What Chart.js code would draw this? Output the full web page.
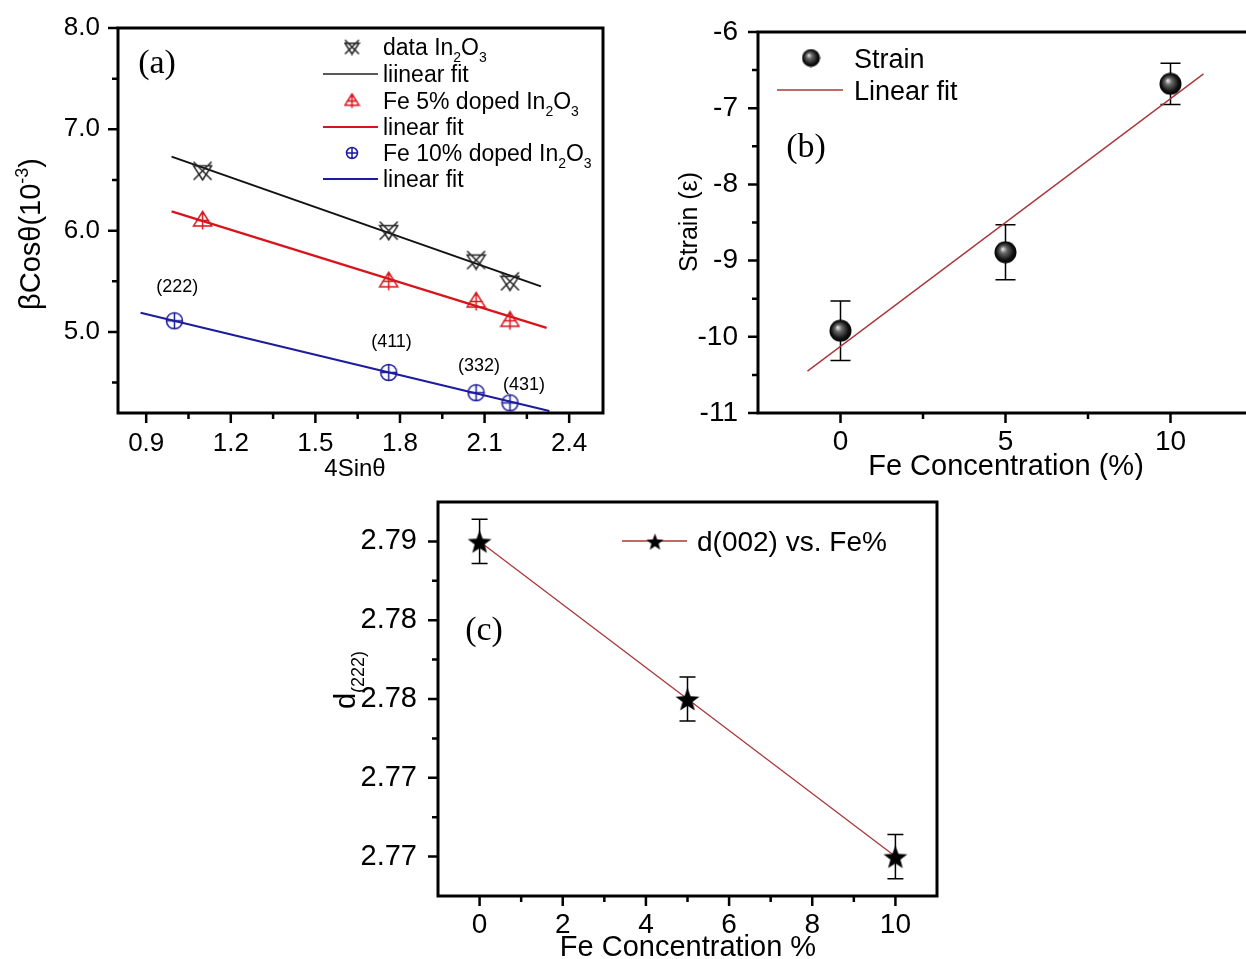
<!DOCTYPE html>
<html>
<head>
<meta charset="utf-8">
<script src="https://cdn.jsdelivr.net/npm/chart.js@4.4.1/dist/chart.umd.min.js"></script>
<style>
  body { margin: 0; background: #fff; }
  #wrap { position: relative; width: 1246px; height: 959px; overflow: hidden; background: #fff; }
  #wrap canvas { position: absolute; }
</style>
</head>
<body>
<div id="wrap">
  <canvas id="chartA" width="620" height="480" style="left:0;top:0;"></canvas>
  <canvas id="chartB" width="660" height="480" style="left:620px;top:0;"></canvas>
  <canvas id="chartC" width="640" height="479" style="left:320px;top:480px;"></canvas>
</div>
<script>
const SANS = '"Liberation Sans", Arial, sans-serif';
const SERIF = '"Liberation Serif", "Times New Roman", serif';

// ---- (a) Williamson-Hall plot ----
const whX = [1.10, 1.76, 2.07, 2.19];
const whX10 = [1.00, 1.76, 2.07, 2.19];
const whPure = [6.59, 6.00, 5.71, 5.50];
const whFe5 = [6.10, 5.50, 5.30, 5.11];
const whFe10 = [5.11, 4.60, 4.40, 4.30];
const fitPureX = [0.99, 2.30];
const fitPureY = [6.73, 5.45];
const fitFe5X = [0.99, 2.32];
const fitFe5Y = [6.19, 5.04];
const fitFe10X = [0.88, 2.33];
const fitFe10Y = [5.19, 4.22];
const peakLabels = ['(222)', '(411)', '(332)', '(431)'];
const peakLabelX = [1.01, 1.77, 2.08, 2.24];
const peakLabelY = [5.46, 4.92, 4.68, 4.49];
const aXTicks = [0.9, 1.2, 1.5, 1.8, 2.1, 2.4];
const aXLabels = ['0.9', '1.2', '1.5', '1.8', '2.1', '2.4'];
const aXMinor = [1.05, 1.35, 1.65, 1.95, 2.25];
const aYTicks = [5, 6, 7, 8];
const aYLabels = ['5.0', '6.0', '7.0', '8.0'];
const aYMinor = [4.5, 5.5, 6.5, 7.5];

// ---- (b) strain vs Fe ----
const feConc = [0, 5, 10];
const strain = [-9.92, -8.89, -6.68];
const strainErr = [0.39, 0.36, 0.27];
const strainFitX = [-1, 11];
const strainFitY = [-10.45, -6.55];
const bXTicks = [0, 5, 10];
const bXLabels = ['0', '5', '10'];
const bXMinor = [2.5, 7.5];
const bYTicks = [-11, -10, -9, -8, -7, -6];
const bYLabels = ['-11', '-10', '-9', '-8', '-7', '-6'];
const bYMinor = [-10.5, -9.5, -8.5, -7.5, -6.5];

// ---- (c) d-spacing vs Fe ----
const dSpacing = [2.79, 2.78, 2.77];
const dErr = [0.0014, 0.0014, 0.0014];
const cXTicks = [0, 2, 4, 6, 8, 10];
const cXLabels = ['0', '2', '4', '6', '8', '10'];
const cXMinor = [1, 3, 5, 7, 9];
const cYTicks = [2.77, 2.775, 2.78, 2.785, 2.79];
const cYLabels = ['2.77', '2.77', '2.78', '2.78', '2.79'];
const cYMinor = [2.7725, 2.7775, 2.7825, 2.7875];

const xy = (xs, ys) => xs.map((x, i) => ({ x: x, y: ys[i] }));

// marker images
function marker(size, draw) {
  const c = document.createElement('canvas');
  c.width = size; c.height = size;
  draw(c.getContext('2d'), size / 2);
  return c;
}
const crossTri = (s, color) => marker(s, (g, h) => {
  const r = h - 1.5;
  g.strokeStyle = color; g.lineWidth = 1.5;
  g.beginPath();
  g.moveTo(h - r, h - r); g.lineTo(h + r, h + r);
  g.moveTo(h + r, h - r); g.lineTo(h - r, h + r);
  g.moveTo(h - r, h - r * 0.55); g.lineTo(h + r, h - r * 0.55); g.lineTo(h, h + r); g.closePath();
  g.stroke();
});
const triPlus = (s, color) => marker(s, (g, h) => {
  const r = h - 1.5;
  g.strokeStyle = color; g.lineWidth = 1.5;
  g.beginPath();
  g.moveTo(h, h - r); g.lineTo(h + r, h + r * 0.6); g.lineTo(h - r, h + r * 0.6); g.closePath();
  g.moveTo(h, h - r); g.lineTo(h, h + r);
  g.moveTo(h - r * 0.75, h); g.lineTo(h + r * 0.75, h);
  g.stroke();
});
const circPlus = (s, color) => marker(s, (g, h) => {
  const r = h - 1.5;
  g.strokeStyle = color; g.lineWidth = 1.5;
  g.beginPath();
  g.arc(h, h, r, 0, Math.PI * 2);
  g.moveTo(h, h - r); g.lineTo(h, h + r);
  g.moveTo(h - r, h); g.lineTo(h + r, h);
  g.stroke();
});
const ball = s => marker(s, (g, h) => {
  const grad = g.createRadialGradient(h * 0.75, h * 0.7, 0, h, h, h);
  grad.addColorStop(0, '#f2f2f2');
  grad.addColorStop(0.3, '#6a6a6a');
  grad.addColorStop(0.75, '#111');
  grad.addColorStop(1, '#000');
  g.fillStyle = grad;
  g.beginPath(); g.arc(h, h, h - 0.5, 0, Math.PI * 2); g.fill();
});
const star = s => marker(s, (g, h) => {
  const R = h - 0.5, r = R * 0.42;
  g.fillStyle = '#000';
  g.beginPath();
  for (let i = 0; i < 10; i++) {
    const a = -Math.PI / 2 + i * Math.PI / 5;
    const rr = i % 2 ? r : R;
    g.lineTo(h + rr * Math.cos(a), h + 1.5 + rr * Math.sin(a));
  }
  g.closePath(); g.fill();
});

// text with _{sub} and ^{sup}
function richText(ctx, str, x, y, size, family, align, angle) {
  const parts = str.split(/(_\{[^}]*\}|\^\{[^}]*\})/).filter(Boolean).map(p => {
    if (p[0] === '_') return { t: p.slice(2, -1), s: 'sub' };
    if (p[0] === '^') return { t: p.slice(2, -1), s: 'sup' };
    return { t: p };
  });
  const small = Math.round(size * 0.62);
  ctx.save();
  ctx.translate(x, y);
  if (angle) ctx.rotate(angle);
  const widths = parts.map(p => {
    ctx.font = (p.s ? small : size) + 'px ' + family;
    return ctx.measureText(p.t).width;
  });
  const total = widths.reduce((a, b) => a + b, 0);
  let cx = align === 'center' ? -total / 2 : align === 'right' ? -total : 0;
  ctx.fillStyle = '#000';
  ctx.textAlign = 'left';
  ctx.textBaseline = 'alphabetic';
  parts.forEach((p, i) => {
    ctx.font = (p.s ? small : size) + 'px ' + family;
    const dy = p.s === 'sub' ? size * 0.28 : p.s === 'sup' ? -size * 0.42 : 0;
    ctx.fillText(p.t, cx, size * 0.36 + dy);
    cx += widths[i];
  });
  ctx.restore();
}

const panelPlugin = {
  id: 'panel',
  beforeDatasetsDraw(chart) {
    const { ctx, scales: { x, y } } = chart;
    chart.data.datasets.forEach(ds => {
      if (!ds.errorBars) return;
      ctx.save();
      ctx.strokeStyle = '#000';
      ctx.lineWidth = 1.5;
      ds.data.forEach((p, i) => {
        const px = x.getPixelForValue(p.x);
        const top = y.getPixelForValue(p.y + ds.errorBars[i]);
        const bot = y.getPixelForValue(p.y - ds.errorBars[i]);
        const w = ds.capHalf;
        ctx.beginPath();
        ctx.moveTo(px, top); ctx.lineTo(px, bot);
        ctx.moveTo(px - w, top); ctx.lineTo(px + w, top);
        ctx.moveTo(px - w, bot); ctx.lineTo(px + w, bot);
        ctx.stroke();
      });
      ctx.restore();
    });
  },
  afterDraw(chart, args, opts) {
    const { ctx, chartArea: a, scales: { x, y } } = chart;
    ctx.save();
    // frame
    ctx.strokeStyle = '#000';
    ctx.lineWidth = 3;
    ctx.strokeRect(a.left, a.top, a.right - a.left, a.bottom - a.top);
    // tick marks, pointing out
    ctx.lineWidth = 2.5;
    ctx.beginPath();
    const tickX = (vals, len) => vals.forEach(v => {
      const p = x.getPixelForValue(v);
      ctx.moveTo(p, a.bottom); ctx.lineTo(p, a.bottom + len);
    });
    const tickY = (vals, len) => vals.forEach(v => {
      const p = y.getPixelForValue(v);
      ctx.moveTo(a.left, p); ctx.lineTo(a.left - len, p);
    });
    tickX(opts.xMajor, 10); tickX(opts.xMinor, 6);
    tickY(opts.yMajor, 10); tickY(opts.yMinor, 6);
    ctx.stroke();
    ctx.restore();

    // titles and labels
    (opts.texts || []).forEach(t => {
      let px = t.x, py = t.y;
      if (t.data) { px = x.getPixelForValue(t.x); py = y.getPixelForValue(t.y); }
      richText(ctx, t.text, px, py, t.size, t.family || SANS, t.align || 'center', t.angle || 0);
    });

    // legend
    (opts.legend || []).forEach(it => {
      if (it.line) {
        ctx.save();
        ctx.strokeStyle = it.line;
        ctx.lineWidth = it.lineWidth || 1.5;
        ctx.beginPath();
        ctx.moveTo(it.lx[0], it.y); ctx.lineTo(it.lx[1], it.y);
        ctx.stroke();
        ctx.restore();
      }
      if (it.symbol) {
        ctx.drawImage(it.symbol, it.sx - it.symbol.width / 2, it.y - it.symbol.height / 2);
      }
      richText(ctx, it.text, it.tx, it.y, it.size, SANS, 'left', 0);
    });
  }
};

function axis(min, max, ticks, labels, boxSize, pad, fontSize) {
  return {
    type: 'linear',
    min: min,
    max: max,
    grid: { display: false, drawTicks: false },
    border: { display: false },
    title: { display: false },
    ticks: {
      padding: pad,
      color: '#000',
      autoSkip: false,
      maxRotation: 0,
      font: { family: SANS, size: fontSize },
      callback: (v, i) => labels[i]
    },
    afterBuildTicks: s => { s.ticks = ticks.map(v => ({ value: v })); },
    afterFit: s => {
      if (s.isHorizontal()) s.height = boxSize; else s.width = boxSize;
      // keep the plot box where the layout padding puts it
      s.paddingTop = 0; s.paddingBottom = 0; s.paddingLeft = 0; s.paddingRight = 0;
    }
  };
}

function panelChart(id, datasets, padding, xAxis, yAxis, panel) {
  return new Chart(document.getElementById(id), {
    type: 'scatter',
    data: { datasets: datasets },
    options: {
      responsive: false,
      animation: false,
      devicePixelRatio: 1,
      layout: { padding: padding },
      plugins: { legend: { display: false }, tooltip: { enabled: false }, panel: panel },
      scales: { x: xAxis, y: yAxis }
    },
    plugins: [panelPlugin]
  });
}

// ---- chart (a) ----
const RED = '#d8141c';
const BLUE = '#1c1c9c';
panelChart('chartA', [
  { data: xy(whX, whPure), pointStyle: crossTri(21, '#222'), pointRadius: 10, order: 0 },
  { data: xy(whX, whFe5), pointStyle: triPlus(21, RED), pointRadius: 10, order: 0 },
  { data: xy(whX10, whFe10), pointStyle: circPlus(19, BLUE), pointRadius: 10, order: 0 },
  { data: xy(fitPureX, fitPureY), showLine: true, pointRadius: 0, borderColor: '#111', borderWidth: 2, order: 1 },
  { data: xy(fitFe5X, fitFe5Y), showLine: true, pointRadius: 0, borderColor: RED, borderWidth: 2.2, order: 1 },
  { data: xy(fitFe10X, fitFe10Y), showLine: true, pointRadius: 0, borderColor: BLUE, borderWidth: 2.2, order: 1 }
], { left: 0, top: 28, right: 17, bottom: 0 },
  axis(0.8, 2.52, aXTicks, aXLabels, 67, 15, 26),
  axis(4.2, 8.0, aYTicks, aYLabels, 118, 18, 26),
  {
    xMajor: aXTicks, xMinor: aXMinor, yMajor: aYTicks, yMinor: aYMinor,
    texts: [
      { text: 'βCosθ(10^{-3})', x: 30, y: 234, size: 29, angle: -Math.PI / 2 },
      { text: '4Sinθ', x: 355, y: 467, size: 24 },
      { text: '(a)', x: 157, y: 61, size: 34, family: SERIF }
    ].concat(peakLabels.map((t, i) => ({ text: t, x: peakLabelX[i], y: peakLabelY[i], data: true, size: 18 }))),
    legend: [
      { y: 47, symbol: crossTri(17, '#222'), sx: 352, text: 'data In_{2}O_{3}', tx: 383, size: 23 },
      { y: 74, line: '#222', lx: [323, 378], text: 'liinear fit', tx: 383, size: 23 },
      { y: 101, symbol: triPlus(17, RED), sx: 352, text: 'Fe 5% doped In_{2}O_{3}', tx: 383, size: 23 },
      { y: 127, line: RED, lineWidth: 2.2, lx: [323, 378], text: 'linear fit', tx: 383, size: 23 },
      { y: 153, symbol: circPlus(14, BLUE), sx: 352, text: 'Fe 10% doped In_{2}O_{3}', tx: 383, size: 23 },
      { y: 179, line: BLUE, lineWidth: 2, lx: [323, 378], text: 'linear fit', tx: 383, size: 23 }
    ]
  });

// ---- chart (b) ----  (right edge of its frame runs past the page edge)
const FIT_RED = '#a8383a';
panelChart('chartB', [
  { data: xy(feConc, strain), pointStyle: ball(23), pointRadius: 11, errorBars: strainErr, capHalf: 10, order: 0 },
  { data: xy(strainFitX, strainFitY), showLine: true, pointRadius: 0, borderColor: FIT_RED, borderWidth: 1.4, order: 1 }
], { left: 0, top: 32, right: 27, bottom: 0 },
  axis(-2.5, 12.5, bXTicks, bXLabels, 67, 12, 28),
  axis(-11, -6, bYTicks, bYLabels, 138, 20, 28),
  {
    xMajor: bXTicks, xMinor: bXMinor, yMajor: bYTicks, yMinor: bYMinor,
    texts: [
      { text: 'Strain (ε)', x: 68, y: 222, size: 25, angle: -Math.PI / 2 },
      { text: 'Fe Concentration (%)', x: 386, y: 465, size: 29 },
      { text: '(b)', x: 186, y: 145, size: 34, family: SERIF }
    ],
    legend: [
      { y: 58, symbol: ball(19), sx: 191, text: 'Strain', tx: 234, size: 27 },
      { y: 90, line: FIT_RED, lineWidth: 1.4, lx: [157, 223], text: 'Linear fit', tx: 234, size: 27 }
    ]
  });

// ---- chart (c) ----
panelChart('chartC', [
  { data: xy(feConc, dSpacing), showLine: true, pointStyle: star(26), pointRadius: 12,
    borderColor: FIT_RED, borderWidth: 1.3, errorBars: dErr, capHalf: 8 }
], { left: 0, top: 22, right: 23, bottom: 0 },
  axis(-1, 11, cXTicks, cXLabels, 63, 12, 28),
  axis(2.7675, 2.7925, cYTicks, cYLabels, 118, 21, 29),
  {
    xMajor: cXTicks, xMinor: cXMinor, yMajor: cYTicks, yMinor: cYMinor,
    texts: [
      { text: 'd_{(222)}', x: 25, y: 200, size: 29, angle: -Math.PI / 2 },
      { text: 'Fe Concentration %', x: 368, y: 466, size: 29 },
      { text: '(c)', x: 164, y: 148, size: 34, family: SERIF }
    ],
    legend: [
      { y: 61, line: FIT_RED, lineWidth: 1.4, lx: [302, 367], symbol: star(19), sx: 335, text: 'd(002) vs. Fe%', tx: 377, size: 28 }
    ]
  });
</script>
</body>
</html>
